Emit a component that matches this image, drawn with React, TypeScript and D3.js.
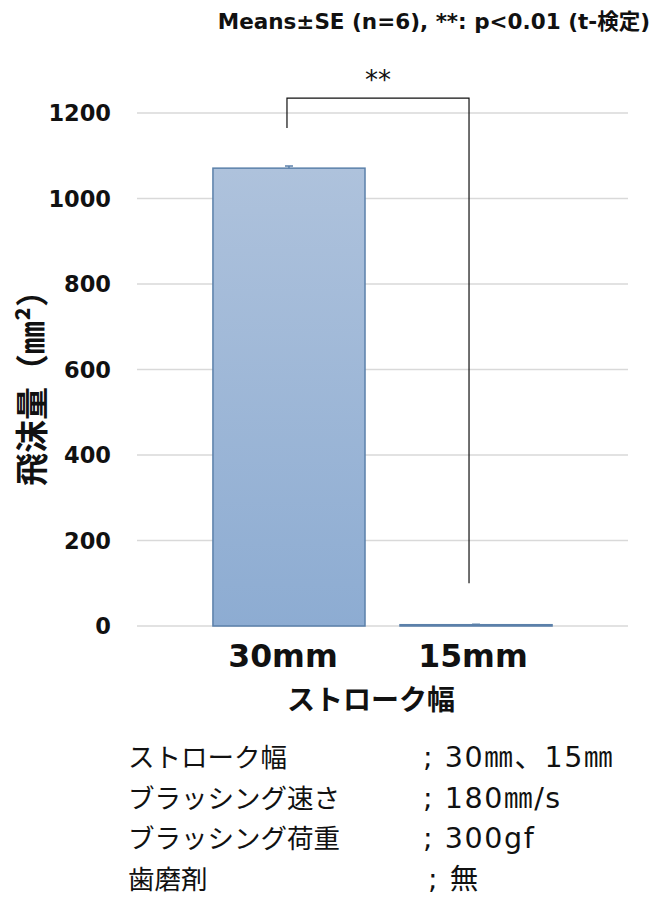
import React, { useEffect, useRef } from 'react';
import * as d3 from 'd3';

const categories = ['30mm', '15mm'];
const means = [1071, 3];
const errors = [5, 1];
const yTicks = [0, 200, 400, 600, 800, 1000, 1200];
const conditionLabels = ['ストローク幅', 'ブラッシング速さ', 'ブラッシング荷重', '歯磨剤'];
const conditionValues = ['; 30㎜、15㎜', '; 180㎜/s', '; 300gf', '; 無'];

const W = 671;
const H = 917;
const FONT = '"DejaVu Sans", "Noto Sans CJK JP", sans-serif';
const JP = '"Noto Sans CJK JP", sans-serif';

const App: React.FC = () => {
  const svgRef = useRef<SVGSVGElement>(null);

  useEffect(() => {
    if (!svgRef.current) return;
    const svg = d3.select(svgRef.current);
    svg.selectAll('*').remove();

    const plot = { left: 137, right: 628, top: 113, bottom: 626 };

    const x = d3.scaleBand()
      .domain(categories)
      .range([plot.left, plot.right])
      .paddingInner(0.187)
      .paddingOuter(0.406);

    const y = d3.scaleLinear().domain([0, 1200]).range([plot.bottom, plot.top]);

    const defs = svg.append('defs');
    const grad = defs.append('linearGradient')
      .attr('id', 'barGrad')
      .attr('x1', 0).attr('y1', 0).attr('x2', 0).attr('y2', 1);
    grad.append('stop').attr('offset', '0%').attr('stop-color', '#aec2dc');
    grad.append('stop').attr('offset', '100%').attr('stop-color', '#8dacd2');

    // title annotation
    svg.append('text')
      .attr('x', 650).attr('y', 29)
      .attr('text-anchor', 'end')
      .attr('font-family', FONT)
      .attr('font-weight', 'bold')
      .attr('font-size', 21.5)
      .attr('fill', '#111')
      .text('Means±SE (n=6), **: p<0.01 (t-検定)');

    // gridlines
    svg.append('g')
      .selectAll('line')
      .data(yTicks)
      .join('line')
      .attr('x1', plot.left).attr('x2', plot.right)
      .attr('y1', d => y(d)).attr('y2', d => y(d))
      .attr('stroke', '#d9d9d9')
      .attr('stroke-width', 1.5);

    // tick labels
    svg.append('g')
      .selectAll('text')
      .data(yTicks)
      .join('text')
      .attr('x', 111)
      .attr('y', d => y(d))
      .attr('dy', '0.36em')
      .attr('text-anchor', 'end')
      .attr('font-family', FONT)
      .attr('font-weight', 'bold')
      .attr('font-size', 22.5)
      .attr('fill', '#111')
      .text(d => d);

    // bars
    svg.append('g')
      .selectAll('rect')
      .data(means)
      .join('rect')
      .attr('x', (_, i) => x(categories[i])!)
      .attr('width', x.bandwidth())
      .attr('y', d => y(d))
      .attr('height', d => y(0) - y(d))
      .attr('fill', 'url(#barGrad)')
      .attr('stroke', '#5b80aa')
      .attr('stroke-width', 1.5);

    // error bars
    const eb = svg.append('g');
    means.forEach((m, i) => {
      const cx = x(categories[i])! + x.bandwidth() / 2;
      eb.append('line')
        .attr('x1', cx).attr('x2', cx)
        .attr('y1', y(m)).attr('y2', y(m + errors[i]))
        .attr('stroke', '#5b80aa').attr('stroke-width', 1.5);
      eb.append('line')
        .attr('x1', cx - 4).attr('x2', cx + 4)
        .attr('y1', y(m + errors[i])).attr('y2', y(m + errors[i]))
        .attr('stroke', '#5b80aa').attr('stroke-width', 1.5);
    });

    // significance bracket
    const bx1 = x(categories[0])! + x.bandwidth() / 2 - 2;
    const bx2 = x(categories[1])! + x.bandwidth() / 2 - 7;
    const by = y(1235);
    svg.append('path')
      .attr('d', `M${bx1},${y(1165)} V${by} H${bx2} V${y(100)}`)
      .attr('fill', 'none')
      .attr('stroke', '#111')
      .attr('stroke-width', 1.2);
    svg.append('text')
      .attr('x', (bx1 + bx2) / 2)
      .attr('y', by - 9)
      .attr('text-anchor', 'middle')
      .attr('font-family', FONT)
      .attr('font-size', 26)
      .attr('fill', '#111')
      .text('**');

    // category labels
    svg.append('g')
      .selectAll('text')
      .data(categories)
      .join('text')
      .attr('x', d => x(d)! + x.bandwidth() / 2 + (d === '30mm' ? -6 : -3))
      .attr('y', 667)
      .attr('text-anchor', 'middle')
      .attr('font-family', FONT)
      .attr('font-weight', 'bold')
      .attr('font-size', 31.5)
      .attr('fill', '#111')
      .text(d => d);

    // x axis title
    svg.append('text')
      .attr('x', 371).attr('y', 710)
      .attr('text-anchor', 'middle')
      .attr('font-family', JP)
      .attr('font-weight', 'bold')
      .attr('font-size', 28)
      .attr('fill', '#111')
      .text('ストローク幅');

    // y axis title
    svg.append('text')
      .attr('transform', `translate(44,380) rotate(-90)`)
      .attr('text-anchor', 'middle')
      .attr('font-family', JP)
      .attr('font-weight', 'bold')
      .attr('font-size', 33)
      .attr('fill', '#111')
      .text('飛沫量（㎜²）');

    // condition notes
    const notes = svg.append('g')
      .attr('font-size', 26.5)
      .attr('fill', '#111');
    conditionLabels.forEach((lab, i) => {
      notes.append('text')
        .attr('x', 128).attr('y', 767 + i * 40.5)
        .attr('font-family', JP)
        .text(lab);
      notes.append('text')
        .attr('x', i === 3 ? 428 : 423).attr('y', 767 + i * 40.5)
        .attr('font-family', FONT)
        .attr('font-size', 28.5)
        .attr('letter-spacing', 1.6)
        .text(conditionValues[i]);
    });
  }, []);

  return (
    <div style={{ position: 'absolute', left: 0, top: 0, width: W, height: H, background: '#fff' }}>
      <svg ref={svgRef} width={W} height={H} />
    </div>
  );
};

export default App;
